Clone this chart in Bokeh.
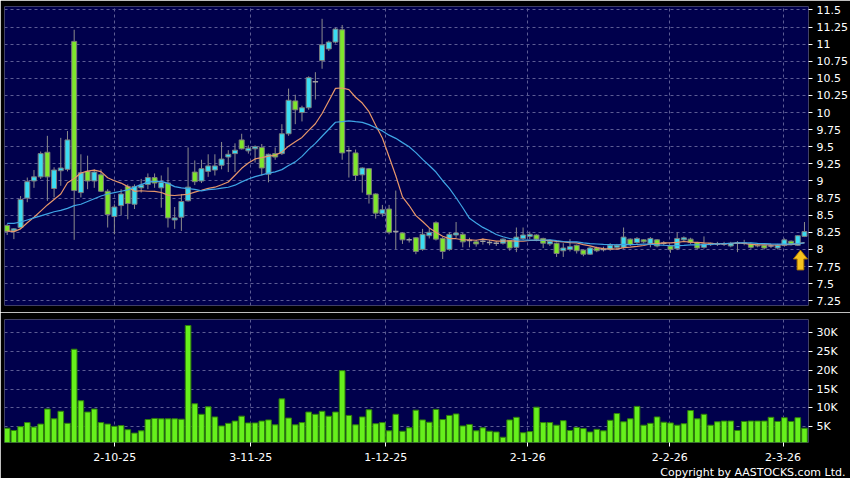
import numpy as np
import pandas as pd
from bokeh.plotting import figure
from bokeh.layouts import column
from bokeh.models import Range1d, FixedTicker, Title
from bokeh.embed import file_html
from bokeh.resources import INLINE

# ---------------- data ----------------
opens = [8.35, 8.27, 8.32, 8.75, 9.00, 9.06, 9.42, 8.89, 9.15, 9.17,
         11.04, 8.83, 9.14, 9.00, 9.09, 8.85, 8.48, 8.64, 8.92, 8.66,
         8.90, 8.95, 9.05, 8.90, 8.97, 8.43, 8.47, 8.71, 9.13, 9.00,
         9.14, 9.16, 9.23, 9.35, 9.40, 9.60, 9.44, 9.47, 9.49, 9.10,
         9.40, 9.40, 9.69, 10.17, 10.00, 10.07, 10.45, 10.76, 10.93, 11.03,
         11.21, 9.44, 9.41, 9.09, 9.18, 8.81, 8.52, 8.59, 8.26, 8.24,
         8.14, 8.17, 8.00, 8.20, 8.39, 8.16, 8.00, 8.21, 8.22, 8.13,
         8.11, 8.12, 8.10, 8.09, 8.09, 8.13, 8.03, 8.16, 8.19, 8.21,
         8.16, 8.08, 8.09, 7.98, 8.00, 8.06, 7.99, 7.93, 8.02, 8.00,
         8.00, 8.03, 8.03, 8.15, 8.10, 8.14, 8.08, 8.14, 8.09, 8.05,
         8.01, 8.14, 8.15, 8.10, 8.03, 8.09, 8.08, 8.08, 8.05, 8.09,
         8.09, 8.08, 8.06, 8.06, 8.05, 8.02, 8.06, 8.12, 8.06, 8.19]
highs = [8.37, 8.31, 8.78, 9.05, 9.16, 9.43, 9.66, 9.20, 9.63, 9.73,
         11.21, 9.39, 9.37, 9.17, 9.17, 8.88, 8.66, 8.88, 8.95, 8.95,
         9.03, 9.11, 9.11, 9.08, 9.20, 8.62, 8.81, 9.49, 9.30, 9.31,
         9.39, 9.39, 9.57, 9.45, 9.55, 9.69, 9.52, 9.52, 9.54, 9.40,
         9.49, 9.83, 10.35, 10.26, 10.10, 10.53, 10.59, 11.37, 11.05, 11.24,
         11.28, 9.49, 9.46, 9.20, 9.19, 8.82, 8.65, 8.65, 8.86, 8.25,
         8.17, 8.18, 8.30, 8.31, 8.41, 8.18, 8.25, 8.40, 8.24, 8.17,
         8.14, 8.16, 8.14, 8.12, 8.16, 8.14, 8.32, 8.32, 8.26, 8.22,
         8.17, 8.13, 8.10, 8.09, 8.15, 8.07, 8.00, 8.04, 8.04, 8.04,
         8.09, 8.08, 8.32, 8.16, 8.18, 8.15, 8.18, 8.15, 8.12, 8.06,
         8.25, 8.19, 8.17, 8.11, 8.19, 8.10, 8.11, 8.11, 8.11, 8.12,
         8.14, 8.10, 8.08, 8.07, 8.08, 8.08, 8.16, 8.13, 8.21, 8.40]
lows = [8.21, 8.15, 8.30, 8.69, 8.90, 9.03, 8.71, 8.76, 8.93, 9.14,
        8.14, 8.76, 8.88, 8.90, 8.84, 8.32, 8.22, 8.50, 8.44, 8.59,
        8.83, 8.88, 8.90, 8.61, 8.32, 8.30, 8.27, 8.70, 8.94, 8.97,
        9.06, 9.08, 9.17, 9.13, 9.13, 9.46, 9.40, 9.27, 9.08, 8.98,
        9.31, 9.38, 9.66, 9.83, 9.87, 10.04, 10.19, 10.64, 10.90, 11.01,
        9.31, 9.05, 9.00, 8.83, 8.67, 8.45, 8.48, 8.22, 8.00, 8.08,
        8.10, 7.93, 7.98, 8.16, 8.13, 7.86, 7.98, 8.17, 8.03, 8.03,
        8.04, 8.07, 8.06, 8.05, 8.07, 7.98, 7.96, 8.14, 8.15, 8.12,
        8.02, 8.05, 7.89, 7.89, 7.97, 7.94, 7.90, 7.92, 7.96, 7.97,
        7.98, 8.00, 8.01, 8.05, 8.08, 8.09, 8.03, 8.03, 8.06, 7.95,
        7.99, 8.12, 8.08, 8.00, 8.01, 8.05, 8.05, 8.05, 8.03, 7.96,
        8.06, 8.01, 8.03, 8.00, 8.02, 8.00, 8.04, 8.06, 8.05, 8.18]
closes = [8.26, 8.30, 8.73, 8.99, 9.06, 9.40, 9.06, 9.16, 9.19, 9.60,
          8.86, 9.12, 9.00, 9.13, 8.85, 8.51, 8.62, 8.81, 8.67, 8.92,
          8.94, 9.05, 8.97, 8.98, 8.46, 8.46, 8.70, 8.91, 8.99, 9.18,
          9.22, 9.22, 9.32, 9.39, 9.45, 9.47, 9.48, 9.50, 9.19, 9.39,
          9.35, 9.69, 10.18, 10.04, 10.07, 10.51, 10.45, 10.99, 11.03, 11.22,
          9.41, 9.44, 9.08, 9.19, 8.80, 8.53, 8.58, 8.25, 8.26, 8.14,
          8.14, 7.97, 8.22, 8.25, 8.15, 7.97, 8.22, 8.24, 8.11, 8.13,
          8.08, 8.12, 8.10, 8.09, 8.15, 8.02, 8.18, 8.21, 8.22, 8.15,
          8.09, 8.12, 7.94, 8.02, 8.04, 7.98, 7.93, 8.02, 7.98, 8.00,
          8.06, 8.06, 8.18, 8.07, 8.16, 8.11, 8.16, 8.05, 8.09, 8.00,
          8.16, 8.17, 8.10, 8.02, 8.08, 8.07, 8.08, 8.08, 8.09, 8.09,
          8.09, 8.03, 8.05, 8.02, 8.05, 8.06, 8.14, 8.08, 8.20, 8.26]
volumes = [4600, 4000, 5000, 6100, 4900, 5700, 9700, 7100, 9100, 5900,
           25600, 11900, 8900, 9700, 6100, 5700, 5100, 5300, 4200, 3300,
           3900, 6900, 7200, 7100, 7100, 7100, 7000, 31900, 11100, 8300,
           10300, 7600, 5200, 5900, 6500, 7800, 6000, 6000, 6500, 6800,
           5500, 12400, 7300, 5500, 6100, 8900, 8300, 9100, 7800, 8900,
           19900, 8000, 5500, 7600, 9500, 5800, 6100, 3900, 8300, 3800,
           4700, 9400, 6800, 6200, 9600, 6900, 8000, 8400, 5200, 5600,
           3900, 4700, 3800, 3600, 2200, 6800, 7500, 3400, 3700, 10200,
           6100, 6100, 5400, 6600, 4000, 4800, 4500, 3600, 4300, 3900,
           6700, 8500, 6300, 7100, 10400, 5400, 5900, 7600, 6200, 6000,
           5400, 5800, 9300, 7100, 8300, 5400, 6300, 6500, 6500, 4000,
           6400, 6500, 6500, 6500, 7500, 6400, 7400, 6400, 7400, 4600]
# moving-average values before a full window is available
ma10_head = [8.27, 8.26, 8.30, 8.39, 8.47, 8.56, 8.65, 8.73, 8.81]
ma20_head = [8.38, 8.38, 8.40, 8.43, 8.46, 8.49, 8.52, 8.55, 8.57, 8.60,
             8.64, 8.66, 8.70, 8.74, 8.78, 8.81, 8.83, 8.85, 8.87]

price_ticks = [7.25, 7.5, 7.75, 8.0, 8.25, 8.5, 8.75, 9.0, 9.25, 9.5,
               9.75, 10.0, 10.25, 10.5, 10.75, 11.0, 11.25, 11.5]
price_tick_labels = ["7.25", "7.5", "7.75", "8", "8.25", "8.5", "8.75", "9", "9.25", "9.5",
                     "9.75", "10", "10.25", "10.5", "10.75", "11", "11.25", "11.5"]
vol_ticks = [5000, 10000, 15000, 20000, 25000, 30000]
vol_tick_labels = ["5K", "10K", "15K", "20K", "25K", "30K"]
date_ticks = [16.06, 36.36, 56.5, 77.7, 98.9, 115.8]
date_labels = ["2-10-25", "3-11-25", "1-12-25", "2-1-26", "2-2-26", "2-3-26"]
copyright_text = "Copyright by AASTOCKS.com Ltd."
# marker arrow (index, tip price, neck price, base price)
arrow_at = 118.4
arrow_tip, arrow_neck, arrow_base = 7.99, 7.86, 7.70

# ---------------- derived ----------------
n = len(closes)
idx = np.arange(n)
o = np.array(opens); h = np.array(highs); l = np.array(lows); c = np.array(closes)
s = pd.Series(closes)
ma10 = s.rolling(10).mean().to_numpy()
ma10[:len(ma10_head)] = ma10_head
ma20 = s.rolling(20).mean().to_numpy()
ma20[:len(ma20_head)] = ma20_head

up = c > o
dn = c < o
flat = c == o

BG = "#00004c"
GRID = "#5c5c94"
CYAN = "#3adcf2"
GREEN = "#7ee62c"
FONT = "DejaVu Sans"


def style_axis(axis, ticks, labels, standoff=4):
    axis.ticker = FixedTicker(ticks=ticks)
    axis.major_label_overrides = dict(zip(ticks, labels))
    axis.major_label_text_color = "white"
    axis.major_label_text_font = FONT
    axis.major_label_text_font_size = "11px"
    axis.axis_line_color = None
    axis.major_tick_line_color = "white"
    axis.major_tick_out = 4
    axis.major_tick_in = 0
    axis.minor_tick_line_color = None
    axis.major_label_standoff = standoff


def style_grid(p, xticks, yticks):
    p.xgrid.ticker = FixedTicker(ticks=xticks)
    p.ygrid.ticker = FixedTicker(ticks=yticks)
    for g in (p.xgrid, p.ygrid):
        g.grid_line_color = GRID
        g.grid_line_dash = "3 3"
        g.grid_line_width = 1


p1 = figure(width=850, height=312,
            x_range=Range1d(-0.4, 119.6), y_range=Range1d(7.18, 11.55),
            y_axis_location="right", output_backend="svg", toolbar_location=None,
            background_fill_color=BG, border_fill_color="black",
            outline_line_color=None,
            min_border_left=4, min_border_top=6, min_border_bottom=7, min_border_right=42)
p1.xaxis.visible = False
style_grid(p1, date_ticks, price_ticks)
style_axis(p1.yaxis[0], price_ticks, price_tick_labels)

# wicks
p1.segment(x0=idx, y0=l, x1=idx, y1=h, line_color="#8c8c8c", line_width=1)
# bodies
p1.vbar(x=idx[up], width=0.74, top=c[up], bottom=o[up],
        fill_color=CYAN, line_color="#7c7c7c", line_width=1)
p1.vbar(x=idx[dn], width=0.74, top=o[dn], bottom=c[dn],
        fill_color=GREEN, line_color="#7c7c7c", line_width=1)
p1.segment(x0=idx[flat] - 0.4, y0=c[flat], x1=idx[flat] + 0.4, y1=c[flat],
           line_color="#a0a0a0", line_width=1.5)
# moving averages
p1.line(idx, ma10, line_color="#e8976a", line_width=1.2)
p1.line(idx, ma20, line_color="#3fa6e6", line_width=1.2)
# arrow
hw, sw = 1.05, 0.5
p1.patch(x=[arrow_at - sw, arrow_at - sw, arrow_at - hw, arrow_at, arrow_at + hw, arrow_at + sw, arrow_at + sw],
         y=[arrow_base, arrow_neck, arrow_neck, arrow_tip, arrow_neck, arrow_neck, arrow_base],
         fill_color="#f6c21e", line_color="#b07800", line_width=1)

p2 = figure(width=850, height=166,
            x_range=p1.x_range, y_range=Range1d(800, 33500),
            y_axis_location="right", output_backend="svg", toolbar_location=None,
            background_fill_color=BG, border_fill_color="black",
            outline_line_color=None,
            min_border_left=4, min_border_top=7, min_border_bottom=35, min_border_right=42)
style_grid(p2, date_ticks, vol_ticks)
style_axis(p2.yaxis[0], vol_ticks, vol_tick_labels)
style_axis(p2.xaxis[0], date_ticks, date_labels, standoff=6)

p2.vbar(x=idx, top=volumes, bottom=0, width=0.84,
        fill_color="#66f01c", line_color="#2f7f0a", line_width=1)

p2.add_layout(Title(text=copyright_text, align="right", offset=-37, standoff=0,
                    text_color="white", text_font=FONT, text_font_size="11px",
                    text_font_style="normal"), "below")

layout = column(p1, p2, spacing=0)
open("out.html", "w").write(file_html(layout, INLINE))
